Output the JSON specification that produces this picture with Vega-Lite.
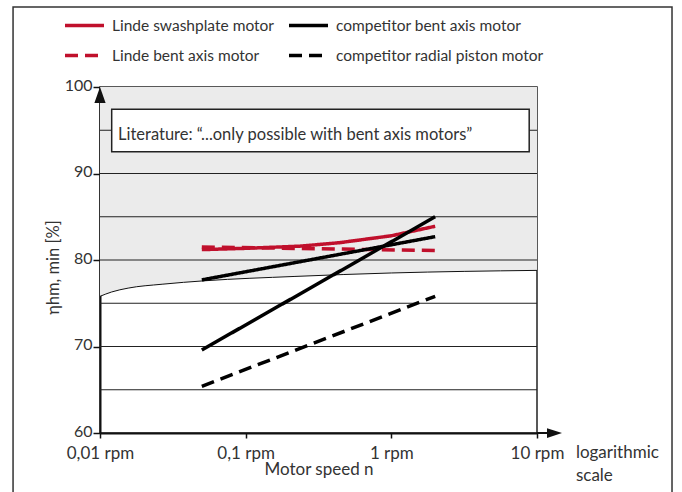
{
  "$schema": "https://vega.github.io/schema/vega-lite/v6.json",
  "width": 437,
  "height": 346,
  "autosize": {"type": "none"},
  "padding": {"left": 100, "top": 87, "right": 145, "bottom": 59},
  "background": "white",
  "config": {
    "font": "Lato",
    "view": {"stroke": "#222", "strokeWidth": 1.5},
    "axis": {"labelFont": "Lato", "titleFont": "Lato", "labelColor": "#333", "titleColor": "#333", "titleFontWeight": "normal", "domainColor": "#111", "tickColor": "#111", "labelFlush": false, "labelOverlap": false},
    "legend": {
      "orient": "none", "legendX": -37, "legendY": -83, "columns": 2,
      "symbolType": "stroke", "symbolSize": 1521, "symbolStrokeWidth": 3.5,
      "labelFont": "Lato", "labelFontSize": 15.5, "labelColor": "#333", "labelOffset": 6,
      "columnPadding": 8, "rowPadding": -14, "labelLimit": 300, "padding": 0
    }
  },
  "datasets": {
    "curve": [
      {"speed": 0.01, "eta": 75.8},
      {"speed": 0.012, "eta": 76.3},
      {"speed": 0.0156, "eta": 76.75},
      {"speed": 0.0267, "eta": 77.2},
      {"speed": 0.0525, "eta": 77.6},
      {"speed": 0.218, "eta": 78.1},
      {"speed": 1, "eta": 78.5},
      {"speed": 10, "eta": 78.8}
    ],
    "grid": [{"eta": 65}, {"eta": 70}, {"eta": 75}, {"eta": 80}, {"eta": 85}, {"eta": 90}, {"eta": 95}],
    "series": [
      {"motor": "Linde swashplate motor", "line": "a", "speed": 0.05, "eta": 81.2},
      {"motor": "Linde swashplate motor", "line": "a", "speed": 0.1, "eta": 81.35},
      {"motor": "Linde swashplate motor", "line": "a", "speed": 0.236, "eta": 81.6},
      {"motor": "Linde swashplate motor", "line": "a", "speed": 0.44, "eta": 82.0},
      {"motor": "Linde swashplate motor", "line": "a", "speed": 1, "eta": 82.8},
      {"motor": "Linde swashplate motor", "line": "a", "speed": 2, "eta": 83.9},
      {"motor": "Linde bent axis motor", "line": "b", "speed": 0.05, "eta": 81.5},
      {"motor": "Linde bent axis motor", "line": "b", "speed": 2, "eta": 81.1},
      {"motor": "competitor bent axis motor", "line": "c1", "speed": 0.05, "eta": 77.7},
      {"motor": "competitor bent axis motor", "line": "c1", "speed": 2, "eta": 82.7},
      {"motor": "competitor bent axis motor", "line": "c2", "speed": 0.05, "eta": 69.6},
      {"motor": "competitor bent axis motor", "line": "c2", "speed": 2, "eta": 85.0},
      {"motor": "competitor radial piston motor", "line": "d", "speed": 0.05, "eta": 65.4},
      {"motor": "competitor radial piston motor", "line": "d", "speed": 2, "eta": 75.8}
    ]
  },
  "layer": [
    {
      "data": {"name": "curve"},
      "mark": {"type": "area", "fill": "#ebebeb", "interpolate": "monotone"},
      "encoding": {
        "x": {
          "field": "speed", "type": "quantitative",
          "scale": {"type": "log", "domain": [0.01, 10], "nice": false},
          "axis": {
            "values": [0.01, 0.1, 1, 10],
            "labelExpr": "replace(format(datum.value, '~g'), '.', ',') + ' rpm'",
            "grid": false, "domainWidth": 2, "tickSize": 5, "tickWidth": 1.5,
            "labelFontSize": 17, "labelPadding": 7,
            "title": "Motor speed n", "titleFontSize": 17, "titlePadding": 0
          }
        },
        "y": {
          "field": "eta", "type": "quantitative",
          "scale": {"domain": [60, 100], "nice": false, "zero": false},
          "axis": {
            "values": [60, 70, 80, 90, 100], "grid": false, "domainWidth": 2,
            "tickSize": 7, "tickWidth": 1.5, "labelFontSize": 16, "labelPadding": 1, "labelOffset": -2,
            "title": "ηhm, min [%]", "titleFontSize": 16.5,
            "titleX": -47, "titleY": 180, "titleAlign": "center", "titleBaseline": "middle", "titleAngle": -90
          }
        },
        "y2": {"datum": 100}
      }
    },
    {
      "data": {"name": "curve"},
      "mark": {"type": "line", "color": "#111", "strokeWidth": 1, "interpolate": "monotone"},
      "encoding": {
        "x": {"field": "speed", "type": "quantitative"},
        "y": {"field": "eta", "type": "quantitative"}
      }
    },
    {
      "data": {"name": "grid"},
      "mark": {"type": "rule", "color": "#222", "strokeWidth": 1.2},
      "encoding": {"y": {"field": "eta", "type": "quantitative"}}
    },
    {
      "data": {"values": [{"x1": 0.01203, "x2": 8.84, "y1": 97.42, "y2": 92.52}]},
      "mark": {"type": "rect", "fill": "white", "stroke": "#222", "strokeWidth": 1.5},
      "encoding": {
        "x": {"field": "x1", "type": "quantitative"},
        "x2": {"field": "x2"},
        "y": {"field": "y1", "type": "quantitative"},
        "y2": {"field": "y2"}
      }
    },
    {
      "data": {"values": [{"x": 0.01329, "y": 94.45, "label": "Literature: “...only possible with bent axis motors”"}]},
      "mark": {"type": "text", "align": "left", "baseline": "middle", "fontSize": 16.5, "color": "#333", "font": "Lato"},
      "encoding": {
        "x": {"field": "x", "type": "quantitative"},
        "y": {"field": "y", "type": "quantitative"},
        "text": {"field": "label"}
      }
    },
    {
      "data": {"name": "series"},
      "mark": {"type": "line", "strokeWidth": 3.5},
      "encoding": {
        "x": {"field": "speed", "type": "quantitative"},
        "y": {"field": "eta", "type": "quantitative"},
        "detail": {"field": "line"},
        "color": {
          "field": "motor", "type": "nominal", "title": null,
          "scale": {
            "domain": ["Linde swashplate motor", "Linde bent axis motor", "competitor bent axis motor", "competitor radial piston motor"],
            "range": ["#c0102c", "#c0102c", "#000000", "#000000"]
          }
        },
        "strokeDash": {
          "field": "motor", "type": "nominal", "title": null,
          "scale": {
            "domain": ["Linde swashplate motor", "Linde bent axis motor", "competitor bent axis motor", "competitor radial piston motor"],
            "range": [[1, 0], [13, 7], [1, 0], [13, 7]]
          }
        }
      }
    },
    {
      "data": {"values": [{"x": 10, "x2": 12.08, "y": 60}]},
      "mark": {"type": "rule", "color": "#111", "strokeWidth": 2},
      "encoding": {
        "x": {"field": "x", "type": "quantitative"},
        "x2": {"field": "x2"},
        "y": {"field": "y", "type": "quantitative"}
      }
    },
    {
      "data": {"values": [{"x": 14.85, "y": 60}]},
      "mark": {"type": "point", "shape": "M1,0L-1,-0.65L-1,0.65Z", "size": 225, "filled": true, "color": "#111", "opacity": 1, "xOffset": -7.5},
      "encoding": {
        "x": {"field": "x", "type": "quantitative"},
        "y": {"field": "y", "type": "quantitative"}
      }
    },
    {
      "data": {"values": [{"x": 0.01, "y": 100}]},
      "mark": {"type": "point", "shape": "M0,-1L0.7,1L-0.7,1Z", "size": 256, "filled": true, "color": "#111", "opacity": 1, "yOffset": 8},
      "encoding": {
        "x": {"field": "x", "type": "quantitative"},
        "y": {"field": "y", "type": "quantitative"}
      }
    },
    {
      "data": {"values": [{"x": 18.5, "y": 57.7, "label": "logarithmic\nscale"}]},
      "mark": {"type": "text", "align": "left", "baseline": "middle", "fontSize": 17, "color": "#333", "font": "Lato", "lineBreak": "\n", "lineHeight": 23},
      "encoding": {
        "x": {"field": "x", "type": "quantitative"},
        "y": {"field": "y", "type": "quantitative"},
        "text": {"field": "label"}
      }
    },
    {
      "data": {"values": [{"x1": 0.00253, "x2": 84.5, "y1": 109.25, "y2": 50}]},
      "mark": {"type": "rect", "fill": null, "fillOpacity": 0, "stroke": "#333", "strokeWidth": 1.5},
      "encoding": {
        "x": {"field": "x1", "type": "quantitative"},
        "x2": {"field": "x2"},
        "y": {"field": "y1", "type": "quantitative"},
        "y2": {"field": "y2"}
      }
    }
  ]
}
